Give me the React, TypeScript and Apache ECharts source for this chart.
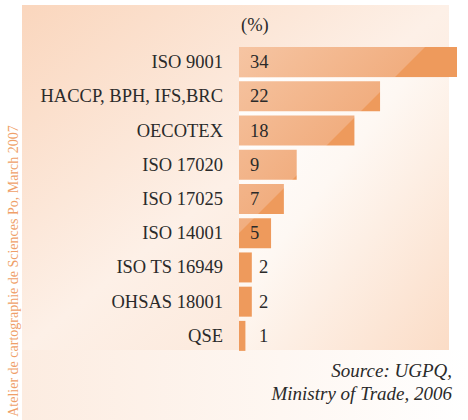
import React, { useEffect, useRef } from "react";
import * as echarts from "echarts";

const categories = [
  "ISO 9001",
  "HACCP, BPH, IFS,BRC",
  "OECOTEX",
  "ISO 17020",
  "ISO 17025",
  "ISO 14001",
  "ISO TS 16949",
  "OHSAS 18001",
  "QSE",
];
const values = [34, 22, 18, 9, 7, 5, 2, 2, 1];
const unitLabel = "(%)";
const sourceLines = ["Source: UGPQ,", "Ministry of Trade, 2006"];
const credit = "Atelier de cartographie de Sciences Po, March 2007";

const SERIF = "Liberation Serif";

export default function App() {
  const ref = useRef<HTMLDivElement>(null);

  useEffect(() => {
    if (!ref.current) return;
    const chart = echarts.init(ref.current, undefined, { renderer: "svg" });

    const barFill = new echarts.graphic.LinearGradient(
      0,
      0,
      473,
      473,
      [
        { offset: 0, color: "#f8d2b6" },
        { offset: 0.3, color: "#f6c5a3" },
        { offset: 0.498, color: "#f1ae80" },
        { offset: 0.5, color: "#ee9a5c" },
        { offset: 1, color: "#ee9a5c" },
      ],
      true
    );

    const data = values.map((v) => ({
      value: v,
      label:
        v >= 5
          ? { position: "insideLeft", distance: 11 }
          : { position: [20, "50%"], align: "left", verticalAlign: "middle" },
    }));

    chart.setOption({
      animation: false,
      backgroundColor: "#ffffff",
      textStyle: { fontFamily: SERIF },
      grid: { left: 239, right: 11, top: 45, bottom: 67, containLabel: false },
      xAxis: { type: "value", min: 0, max: 34, show: false },
      yAxis: {
        type: "category",
        inverse: true,
        data: categories,
        axisLine: { show: false },
        axisTick: { show: false },
        splitLine: { show: false },
        axisLabel: {
          fontSize: 18.5,
          color: "#2a2a2a",
          fontFamily: SERIF,
          margin: 16,
        },
      },
      graphic: [
        {
          type: "rect",
          z: -20,
          silent: true,
          shape: { x: 0, y: 350, width: 468, height: 70 },
          style: {
            fill: new echarts.graphic.LinearGradient(0, 0, 1, 0, [
              { offset: 0, color: "#fcebdf" },
              { offset: 0.6, color: "#fef7f2" },
              { offset: 1, color: "#ffffff" },
            ]),
          },
        },
        {
          type: "rect",
          z: -20,
          silent: true,
          shape: { x: 0, y: 0, width: 22, height: 420 },
          style: { fill: "#ffffff" },
        },
        {
          type: "rect",
          z: -19,
          silent: true,
          shape: { x: 22, y: 5, width: 427, height: 345 },
          style: {
            fill: new echarts.graphic.LinearGradient(0, 0, 1, 1, [
              { offset: 0, color: "#fad6bd" },
              { offset: 0.5, color: "#fdf0e7" },
              { offset: 1, color: "#fbe3d2" },
            ]),
          },
        },
        {
          type: "rect",
          z: -18,
          silent: true,
          shape: { x: 239, y: 78, width: 210, height: 272 },
          style: {
            fill: new echarts.graphic.LinearGradient(0, 0, 1, 1, [
              { offset: 0, color: "#ffffff" },
              { offset: 0.4, color: "#fef8f3" },
              { offset: 1, color: "#fbdcc6" },
            ]),
          },
        },
        {
          type: "text",
          x: 241,
          y: 25,
          style: {
            text: unitLabel,
            fontSize: 18.5,
            fontFamily: SERIF,
            fill: "#2a2a2a",
            align: "left",
            verticalAlign: "middle",
          },
        },
        {
          type: "text",
          x: 452,
          y: 370,
          style: {
            text: sourceLines[0],
            fontSize: 19,
            fontStyle: "italic",
            fontFamily: SERIF,
            fill: "#2a2a2a",
            align: "right",
            verticalAlign: "middle",
          },
        },
        {
          type: "text",
          x: 452,
          y: 393,
          style: {
            text: sourceLines[1],
            fontSize: 19,
            fontStyle: "italic",
            fontFamily: SERIF,
            fill: "#2a2a2a",
            align: "right",
            verticalAlign: "middle",
          },
        },
        {
          type: "text",
          x: 13,
          y: 271,
          rotation: Math.PI / 2,
          style: {
            text: credit,
            fontSize: 14,
            fontFamily: SERIF,
            fill: "#ef9f68",
            align: "center",
            verticalAlign: "middle",
          },
        },
      ],
      series: [
        {
          type: "bar",
          data,
          barWidth: 30,
          itemStyle: { color: barFill },
          label: {
            show: true,
            fontSize: 18.5,
            fontFamily: SERIF,
            color: "#2a2a2a",
          },
          silent: true,
        },
      ],
    });

    return () => chart.dispose();
  }, []);

  return (
    <div
      ref={ref}
      style={{ position: "fixed", left: 0, top: 0, width: 468, height: 420 }}
    />
  );
}
